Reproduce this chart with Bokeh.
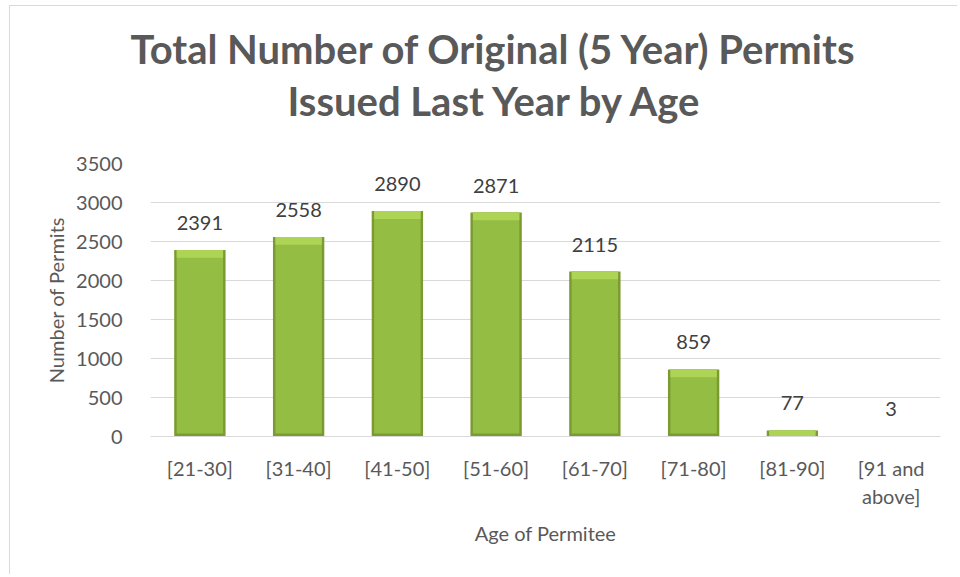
import numpy as np
from bokeh.plotting import figure
from bokeh.models import (ColumnDataSource, FactorRange, Range1d, LabelSet,
                          FixedTicker, Title)
from bokeh.core.properties import value
from bokeh.embed import file_html
from bokeh.resources import INLINE

categories = ["[21-30]", "[31-40]", "[41-50]", "[51-60]",
              "[61-70]", "[71-80]", "[81-90]", "[91 and\nabove]"]
permits = [2391, 2558, 2890, 2871, 2115, 859, 77, 3]
y_ticks = [0, 500, 1000, 1500, 2000, 2500, 3000, 3500]
title_lines = ["Total Number of Original (5 Year) Permits",
               "Issued Last Year by Age"]
x_title = "Age of Permitee"
y_title = "Number of Permits"

FONT = "Lato"
GRAY = "#595959"

vals = np.array(permits, dtype=float)
src = ColumnDataSource(dict(
    cat=categories,
    val=vals,
    body_bot=np.minimum(vals, 40),
    bevel_bot=np.maximum(vals - 100, 0),
    label=[str(v) for v in permits],
))

p = figure(x_range=FactorRange(*categories), y_range=Range1d(0, 3500),
           width=948, height=569, output_backend="svg", toolbar_location=None,
           min_border_left=140, min_border_right=18, min_border_top=157,
           min_border_bottom=139)

# bars: dark edge, body, light top bevel
p.vbar(x="cat", top="val", bottom=0, width=0.52, source=src,
       fill_color="#7B9B32", line_color=None)
p.vbar(x="cat", top="val", bottom="body_bot", width=0.47, source=src,
       fill_color="#94BD44", line_color=None)
p.vbar(x="cat", top="val", bottom="bevel_bot", width=0.47, source=src,
       fill_color="#AED456", line_color=None)

p.add_layout(LabelSet(x="cat", y="val", text="label", source=src,
                      text_align="center", text_baseline="middle", y_offset=27,
                      text_font=value(FONT), text_font_size="20px",
                      text_color="#404040"))

# titles stacked upward from the frame: spacer, line 2, line 1
p.add_layout(Title(text=" ", text_font_size="10px", standoff=25), "above")
p.add_layout(Title(text=title_lines[1], align="left", offset=137,
                   text_font=FONT, text_font_size="40px",
                   text_font_style="bold", text_color=GRAY, standoff=2), "above")
p.add_layout(Title(text=title_lines[0], align="left", offset=-20,
                   text_font=FONT, text_font_size="40px",
                   text_font_style="bold", text_color=GRAY, standoff=2), "above")

p.ygrid.grid_line_color = "#d9d9d9"
p.ygrid.grid_line_width = 1
p.xgrid.grid_line_color = None
p.outline_line_color = None

p.yaxis.ticker = FixedTicker(ticks=y_ticks)
p.yaxis.axis_line_color = None
p.yaxis.major_tick_line_color = None
p.yaxis.minor_tick_line_color = None
p.yaxis.major_label_standoff = 22
p.yaxis.major_label_text_font = FONT
p.yaxis.major_label_text_font_size = "20px"
p.yaxis.major_label_text_color = GRAY
p.yaxis.axis_label = y_title
p.yaxis.axis_label_text_font = FONT
p.yaxis.axis_label_text_font_size = "20px"
p.yaxis.axis_label_text_font_style = "normal"
p.yaxis.axis_label_text_color = GRAY
p.yaxis.axis_label_standoff = 5

p.xaxis.axis_line_color = "#d9d9d9"
p.xaxis.major_tick_line_color = None
p.xaxis.minor_tick_line_color = None
p.xaxis.major_label_standoff = 13
p.xaxis.major_label_text_font = FONT
p.xaxis.major_label_text_font_size = "20px"
p.xaxis.major_label_text_color = GRAY
p.xaxis.major_label_text_line_height = 1.2
p.xaxis.axis_label = x_title
p.xaxis.axis_label_text_font = FONT
p.xaxis.axis_label_text_font_size = "20px"
p.xaxis.axis_label_text_font_style = "normal"
p.xaxis.axis_label_text_color = GRAY
p.xaxis.axis_label_standoff = 10

p.styles = {"margin-left": "9px", "margin-top": "5px",
            "border-left": "1px solid #d9d9d9", "border-top": "1px solid #d9d9d9"}

open("out.html", "w").write(file_html(p, INLINE))
